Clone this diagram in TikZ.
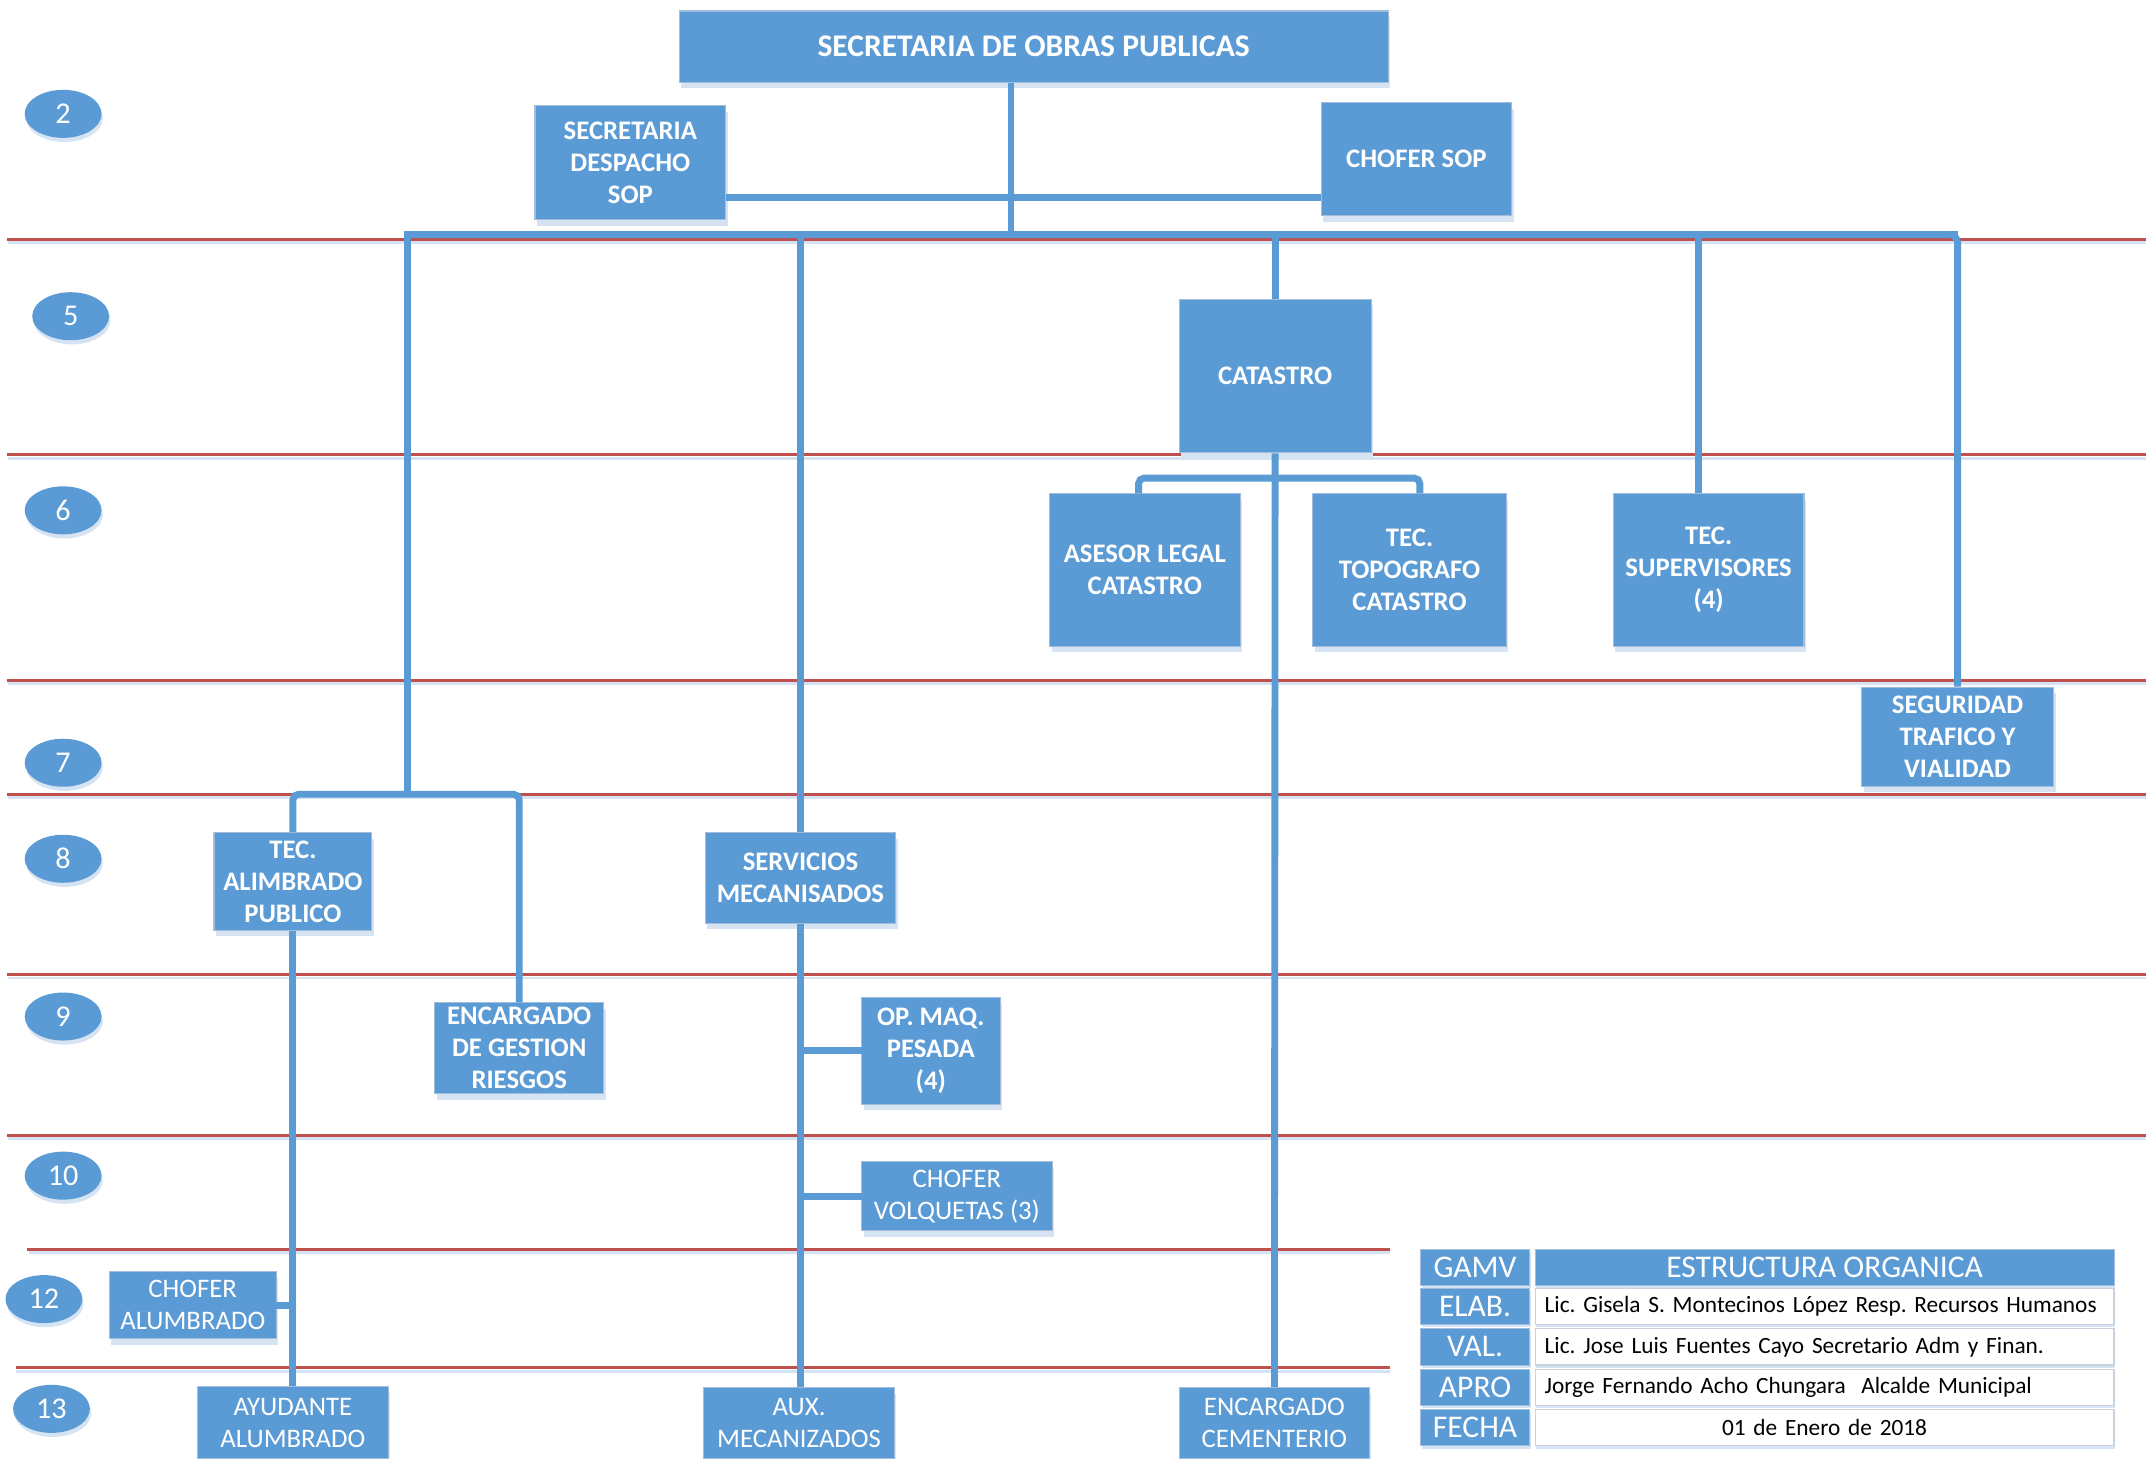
\documentclass[tikz,border=0pt]{standalone}
\usepackage{fontspec}
\setmainfont{Carlito}
\usetikzlibrary{shadows,shapes.geometric}
\definecolor{obBlue}{HTML}{5B9BD5}
\definecolor{obEdge}{HTML}{A3BEDD}
\definecolor{obShadow}{HTML}{D5E3F2}
\definecolor{obRed}{HTML}{C0504D}
\definecolor{cellEdge}{HTML}{C8D2DD}
\frenchspacing
\begin{document}
\begin{tikzpicture}[x=1pt,y=-1pt,
  box/.style={fill=obBlue, draw=obEdge, line width=0.8pt, text=white, inner sep=0pt, align=center,
    general shadow={fill=obShadow, shadow xshift=1.5pt, shadow yshift=-4.5pt}},
  bfont/.style={font=\fontsize{19.5}{23.3}\selectfont\bfseries},
  rfont/.style={font=\fontsize{19.5}{23.3}\selectfont},
  conn/.style={draw=obBlue, line width=5pt},
  level/.style={draw=obRed, line width=2.2pt},
  levelsh/.style={draw=obShadow, line width=2pt},
  num/.style={ellipse, fill=obBlue, text=white, minimum width=56pt, minimum height=35pt, inner sep=0pt,
    font=\fontsize{22}{22}\selectfont, general shadow={fill=obShadow, shadow xshift=1pt, shadow yshift=-3pt}},
  hcell/.style={fill=obBlue, draw=obEdge, line width=0.6pt, text=white, inner sep=0pt, minimum height=26.5pt,
    font=\fontsize{23}{23}\selectfont, general shadow={fill=obShadow, shadow xshift=1pt, shadow yshift=-2pt}},
  wcell/.style={fill=white, draw=cellEdge, line width=0.8pt, text=black, inner ysep=0pt, inner xsep=7pt, minimum height=26.5pt,
    text width=408pt, font=\fontsize{17}{17}\selectfont, general shadow={fill=obShadow, shadow xshift=1pt, shadow yshift=-2pt}}
]
\useasboundingbox (0,0) rectangle (1568,1063);
\clip (0,0) rectangle (1568,1063);
\fill[white] (0,0) rectangle (1568,1063);

% level lines
\foreach \yy in {174.5,331.5,496,579,710.5,827.5}{
  \draw[levelsh] (6,\yy+2.5) -- (1564,\yy+2.5);
  \draw[level] (5,\yy) -- (1564,\yy);
}
\draw[levelsh] (21,913) -- (1013,913);
\draw[level] (20,910.5) -- (1013,910.5);
\draw[levelsh] (12,999.5) -- (1013,999.5);
\draw[level] (11.5,997) -- (1013,997);

% level numbers
\node[num] (n2) at (46,83) {2};
\node[num] (n5) at (51.5,230.5) {5};
\node[num] (n6) at (46,372) {6};
\node[num] (n7) at (46,556) {7};
\node[num] (n8) at (46,626) {8};
\node[num] (n9) at (46,741) {9};
\node[num] (n10) at (46,857) {10};
\node[num] (n12) at (32,947) {12};
\node[num] (n13) at (37.5,1027) {13};

% boxes
\node[box, font=\fontsize{23}{27}\selectfont\bfseries, minimum width=517pt, minimum height=52pt] (top) at (753.5,34) {SECRETARIA DE OBRAS PUBLICAS};
\node[box, bfont, minimum width=139pt, minimum height=83pt] (sds) at (459.5,118.5) {SECRETARIA\\DESPACHO\\SOP};
\node[box, bfont, minimum width=139pt, minimum height=82pt] (chofer) at (1032.5,116) {CHOFER SOP};
\node[box, bfont, minimum width=140pt, minimum height=112pt] (catastro) at (929.5,274) {CATASTRO};
\node[box, bfont, minimum width=139pt, minimum height=111pt] (asesor) at (834.5,415.5) {ASESOR LEGAL\\CATASTRO};
\node[box, bfont, minimum width=141pt, minimum height=111pt] (topog) at (1027.5,415.5) {TEC.\\TOPOGRAFO\\CATASTRO};
\node[box, bfont, minimum width=139pt, minimum height=111pt] (superv) at (1245.5,415.5) {TEC.\\SUPERVISORES\\(4)};
\node[box, bfont, minimum width=140pt, minimum height=72pt] (segur) at (1427,537) {SEGURIDAD\\TRAFICO Y\\VIALIDAD};
\node[box, bfont, minimum width=115pt, minimum height=71pt] (alumb) at (213.5,642.5) {TEC.\\ALIMBRADO\\PUBLICO};
\node[box, bfont, minimum width=139pt, minimum height=66pt] (serv) at (583.5,640) {SERVICIOS\\MECANISADOS};
\node[box, bfont, minimum width=123pt, minimum height=66pt] (encg) at (378.5,764) {ENCARGADO\\DE GESTION\\RIESGOS};
\node[box, bfont, minimum width=101pt, minimum height=78pt] (opmaq) at (678.5,766) {OP. MAQ.\\PESADA\\(4)};
\node[box, rfont, minimum width=139pt, minimum height=50pt] (volq) at (697.5,872) {CHOFER\\VOLQUETAS (3)};
\node[box, rfont, minimum width=122pt, minimum height=49pt] (chalum) at (140.5,951.5) {CHOFER\\ALUMBRADO};
\node[box, rfont, minimum width=139pt, minimum height=52pt] (ayud) at (213.5,1037) {AYUDANTE\\ALUMBRADO};
\node[box, rfont, minimum width=139pt, minimum height=52pt] (aux) at (582.5,1037.5) {AUX.\\MECANIZADOS};
\node[box, rfont, minimum width=138pt, minimum height=52pt] (cement) at (929,1037.5) {ENCARGADO\\CEMENTERIO};

% connector coordinates
\coordinate (busC) at (737,171);
\coordinate (mid) at (737,144);
\coordinate (busL) at (297,171);
\coordinate (busR) at (1427,171);
\coordinate (brTop) at (297,579);
\coordinate (supX) at (1238,171);
\coordinate (catL) at (830,348.5);
\coordinate (catR) at (1035,348.5);

% connectors
\draw[conn] (top.south -| busC) -- (busC);
\draw[conn] (sds.east |- mid) -- (chofer.west |- mid);
\draw[conn] (brTop) -- (busL) -- (busR);
\draw[conn, rounded corners=6] (busL) -- (busR) -- (segur.north);
\draw[conn] (busL -| serv.north) -- (serv.north);
\draw[conn] (busL -| catastro.north) -- (catastro.north);
\draw[conn] (supX) -- (supX |- superv.north);
\draw[conn] (catastro.south) -- (cement.north);
\draw[conn, rounded corners=4] (asesor.north -| catL) -- (catL) -- (catR) -- (topog.north -| catR);
\draw[conn, rounded corners=4] (alumb.north) -- (alumb.north |- brTop) -- (encg.north |- brTop) -- (encg.north);
\draw[conn] (alumb.south) -- (ayud.north);
\draw[conn, line cap=round] (chalum.east) -- (alumb.south |- chalum.east);
\draw[conn] (serv.south) -- (serv.south |- aux.north);
\draw[conn, line cap=round] (opmaq.west) -- ([xshift=2pt]serv.south |- opmaq.west);
\draw[conn, line cap=round] (volq.west) -- ([xshift=2pt]serv.south |- volq.west);

% table
\node[hcell, minimum width=79.5pt] (gamv) at (1075.25,923.75) {GAMV};
\node[hcell, minimum width=422pt] (estr) at (1330,923.75) {ESTRUCTURA ORGANICA};
\node[hcell, minimum width=79.5pt] (elab) at (1075.25,952.25) {ELAB.};
\node[wcell, align=left] (elabv) at (1330,952.25) {\mbox{Lic. Gisela S. Montecinos López Resp. Recursos Humanos}};
\node[hcell, minimum width=79.5pt] (val) at (1075.25,981.75) {VAL.};
\node[wcell, align=left] (valv) at (1330,981.75) {\mbox{Lic. Jose Luis Fuentes Cayo Secretario Adm y Finan.}};
\node[hcell, minimum width=79.5pt] (apro) at (1075.25,1011.25) {APRO};
\node[wcell, align=left] (aprov) at (1330,1011.25) {\mbox{Jorge Fernando Acho Chungara\ \ Alcalde Municipal}};
\node[hcell, minimum width=79.5pt] (fecha) at (1075.25,1040.75) {FECHA};
\node[wcell, align=center] (fechav) at (1330,1040.75) {01 de Enero de 2018};
\end{tikzpicture}
\end{document}
